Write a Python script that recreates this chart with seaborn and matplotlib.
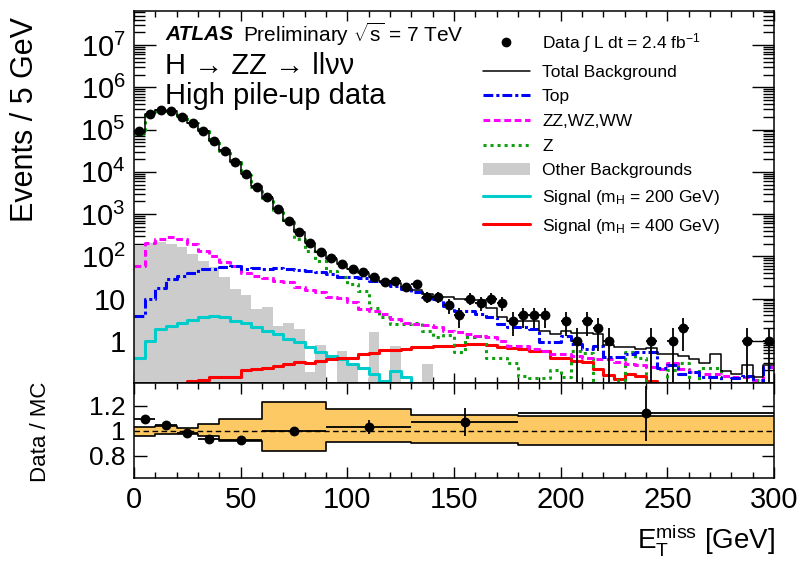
import numpy as np
import pandas as pd
import seaborn as sns
import matplotlib
matplotlib.use("Agg")
import matplotlib.pyplot as plt
from matplotlib.lines import Line2D
from matplotlib.patches import Patch
from matplotlib.ticker import FixedLocator, FixedFormatter, LogLocator, NullFormatter, MultipleLocator

sns.set_theme(style="ticks", rc={"axes.edgecolor": "black", "xtick.color": "black",
                                 "ytick.color": "black", "text.color": "black",
                                 "axes.labelcolor": "black"})
plt.rcParams["font.family"] = ["Liberation Sans", "DejaVu Sans"]
plt.rcParams["mathtext.fontset"] = "custom"
plt.rcParams["mathtext.rm"] = "Liberation Sans"
plt.rcParams["mathtext.it"] = "Liberation Sans:italic"
plt.rcParams["mathtext.bf"] = "Liberation Sans:bold"
plt.rcParams["mathtext.default"] = "regular"

# ---- E_T^miss binning (5 GeV bins, 0-300 GeV) ----
met_edges = list(range(0, 305, 5))

# ---- observed events per bin ----
data = [92000, 239000, 293000, 274000, 203000, 141000, 91000, 54800, 31800, 16800,
        8900, 4460, 2490, 1320, 698, 369, 202, 124, 89, 66,
        50, 42, 33, 25, 26, 19, 22, 11, 11, 7,
        4, 10, 8, 10, 8, 3, 4, 4, 4, 0,
        3, 1, 3, 2, 1, 0, 0, 0, 1, 0,
        1, 2, 0, 0, 0, 0, 0, 1, 0, 1]

# ---- expected backgrounds ----
total_bkg = [85000, 230000, 290000, 275000, 210000, 145000, 92000, 55000, 32000, 17000,
             8800, 4500, 2450, 1330, 700, 372, 205, 125, 86, 64,
             50, 40, 33, 26, 23, 19, 16, 13, 11, 11,
             10, 9, 9, 6, 3.7, 3, 3, 3, 1.7, 1.45,
             1.7, 1.55, 1.55, 1.45, 0.8, 0.7, 0.7, 0.65, 0.68, 0.48,
             0.48, 0.44, 0.38, 0.3, 0.49, 0.19, 0.16, 0.27, 0.14, 0.27]

top = [3.9, 9.7, 18, 29, 35, 41, 50, 50, 57, 58,
       50, 53, 50, 53, 50, 47, 46, 42, 38, 32,
       32, 30, 26, 24, 20, 17, 14, 11, 9.7, 6.8,
       5.1, 5.1, 4.3, 3.6, 2.5, 2.1, 2.1, 1.9, 0.91, 0.93,
       1.3, 0.83, 0.64, 0.76, 0.42, 0.42, 0.48, 0.53, 0.53, 0.23,
       0.27, 0.16, 0.18, 0.135, 0.135, 0.09, 0.13, 0.15, 0.08, 0.24]

diboson = [60, 205, 256, 290, 256, 195, 135, 103, 72, 60,
           41, 35, 31, 26, 24, 19, 16, 14, 10.6, 10.3,
           8.1, 5.6, 5.1, 4.3, 3.3, 2.7, 2.5, 2.3, 2.1, 1.73,
           1.57, 1.42, 1.3, 1.2, 1.0, 0.76, 0.76, 0.64, 0.58, 0.48,
           0.48, 0.44, 0.40, 0.37, 0.37, 0.31, 0.28, 0.26, 0.24, 0.22,
           0.30, 0.22, 0.18, 0.16, 0.16, 0.15, 0.135, 0.135, 0.12, 0.24]

zjets = [80000, 225000, 285000, 270000, 205000, 143000, 91000, 54000, 31500, 16800,
         8600, 4400, 2380, 1250, 640, 250, 130, 79, 45, 32,
         22, 15, 6, 3.6, 2.5, 2.5, 2.7, 1.7, 1.2, 1.4,
         0.55, 1.2, 1.3, 0.4, 0.4, 0.3, 0.15, 0.13, 0.13, 0.2,
         0.14, 0.58, 0.5, 0.1, 0.09, 0.12, 0.53, 0.4, 0.05, 0.05,
         0.2, 0.3, 0.1, 0.23, 0.23, 0.1, 0.05, 0.05, 0.12, 0.05]

other_bkg = [178, 203, 213, 195, 162, 113, 79, 55, 31.6, 16.8,
             12, 5.6, 6.2, 2.2, 2.7, 1.9, 0.18, 0.78, 0, 0.58,
             0.3, 0, 1.57, 0, 0.76, 0, 0, 0.28, 0, 0,
             0, 0, 0, 0, 0, 0, 0, 0, 0, 0,
             0, 0, 0, 0, 0, 0, 0, 0, 0, 0,
             0, 0, 0, 0, 0, 0, 0, 0, 0, 0]

# ---- Higgs signal expectations ----
signal_200 = [0.40, 1.0, 1.9, 2.27, 2.7, 3.1, 3.6, 3.9, 3.6, 3.0,
              2.7, 2.07, 1.73, 1.44, 1.1, 0.91, 0.7, 0.55, 0.44, 0.37,
              0.28, 0.23, 0.16, 0.11, 0.19, 0.135, 0, 0, 0, 0,
              0, 0, 0, 0, 0, 0, 0, 0, 0, 0,
              0, 0, 0, 0, 0, 0, 0, 0, 0, 0,
              0, 0, 0, 0, 0, 0, 0, 0, 0, 0]

signal_400 = [0, 0, 0, 0, 0, 0.11, 0.12, 0.135, 0.14, 0.14,
              0.2, 0.21, 0.23, 0.25, 0.28, 0.31, 0.3, 0.33, 0.38, 0.4,
              0.4, 0.48, 0.52, 0.62, 0.6, 0.65, 0.7, 0.72, 0.76, 0.76,
              0.8, 0.86, 0.86, 0.8, 0.72, 0.69, 0.64, 0.58, 0.56, 0.40,
              0.40, 0.34, 0.31, 0.21, 0.157, 0.123, 0.16, 0.15, 0.11, 0,
              0, 0, 0, 0, 0, 0, 0, 0, 0, 0]

# ---- Data / MC ratio in coarse bins ----
ratio_edges = [0, 10, 20, 30, 40, 60, 90, 130, 180, 300]
ratio_values = [1.092, 1.045, 0.978, 0.933, 0.927, 1.0, 1.03, 1.068, 1.14]
ratio_errors = [0.012, 0.01, 0.01, 0.012, 0.012, 0.012, 0.057, 0.11, 0.22]
band_up = [1.03, 1.04, 1.02, 1.053, 1.092, 1.226, 1.172, 1.127, 1.116]
band_down = [0.955, 0.97, 0.97, 0.954, 0.918, 0.834, 0.91, 0.90, 0.888]

# ---- axis tick labels ----
y_tick_values = [1, 10, 1e2, 1e3, 1e4, 1e5, 1e6, 1e7]
y_tick_labels = ["1", "10", "$10^{2}$", "$10^{3}$", "$10^{4}$", "$10^{5}$", "$10^{6}$", "$10^{7}$"]
ratio_tick_values = [0.8, 1.0, 1.2]
ratio_tick_labels = ["0.8", "1", "1.2"]

edges = np.asarray(met_edges, dtype=float)
hist_df = pd.DataFrame({
    "met": 0.5 * (edges[:-1] + edges[1:]),
    "data": data, "total": total_bkg, "top": top, "diboson": diboson,
    "zjets": zjets, "other": other_bkg, "sig200": signal_200, "sig400": signal_400,
})

W, H = 807, 561
fig = plt.figure(figsize=(W / 100, H / 100), dpi=100)
ax = fig.add_axes([134 / W, 1 - 383 / H, 640 / W, 372 / H])
rax = fig.add_axes([134 / W, 1 - 478 / H, 640 / W, 95 / H])

LW = 2.2
common = dict(data=hist_df, x="met", bins=list(met_edges), element="step", ax=ax)

# other backgrounds as filled grey histogram
sns.histplot(weights="other", fill=True, color="#cccccc", alpha=1.0, linewidth=0, **common)

sns.histplot(weights="sig200", fill=False, color="#00cccc", lw=LW, **common)
sns.histplot(weights="sig400", fill=False, color="#ff0000", lw=LW, **common)
sns.histplot(weights="zjets", fill=False, color="#11a011", lw=LW, ls=(0, (1.0, 1.3)), **common)
sns.histplot(weights="diboson", fill=False, color="#ff00ff", lw=LW, ls=(0, (2.2, 1.2)), **common)
sns.histplot(weights="top", fill=False, color="#0000ff", lw=LW, ls=(0, (3.2, 1.0, 1.0, 1.0)), **common)
sns.histplot(weights="total", fill=False, color="black", lw=1.1, **common)

# observed data with Poisson errors
obs = hist_df[hist_df["data"] > 0]
ax.errorbar(obs["met"], obs["data"], yerr=np.sqrt(obs["data"]), xerr=2.5, fmt="none",
            ecolor="black", elinewidth=1.3, zorder=5)
sns.scatterplot(data=obs, x="met", y="data", color="black", s=50, linewidth=0, ax=ax, zorder=6)

ax.set_yscale("log")
ax.set_xlim(0, 300)
ax.set_ylim(0.1, 6.4e7)
ax.yaxis.set_major_locator(FixedLocator(y_tick_values))
ax.yaxis.set_major_formatter(FixedFormatter(y_tick_labels))
ax.yaxis.set_minor_locator(LogLocator(base=10, subs=np.arange(2, 10), numticks=20))
ax.yaxis.set_minor_formatter(NullFormatter())
ax.xaxis.set_major_locator(MultipleLocator(50))
ax.xaxis.set_minor_locator(MultipleLocator(10))
ax.tick_params(axis="x", which="both", labelbottom=False)
ax.tick_params(which="both", direction="in", top=True, right=True, bottom=True, left=True, width=1.0)
ax.tick_params(axis="y", which="major", length=16, labelsize=21, pad=6)
ax.tick_params(axis="y", which="minor", length=8)
ax.tick_params(axis="x", which="major", length=7)
ax.tick_params(axis="x", which="minor", length=4)
ax.set_xlabel("")
ax.set_ylabel("")
for s in ax.spines.values():
    s.set_linewidth(1.1)

# ---- ratio panel ----
redges = np.asarray(ratio_edges, dtype=float)
ratio_df = pd.DataFrame({
    "met": 0.5 * (redges[:-1] + redges[1:]),
    "half": 0.5 * np.diff(redges),
    "ratio": ratio_values, "err": ratio_errors,
    "up": band_up, "down": band_down,
})
up_ext = np.append(band_up, band_up[-1])
dn_ext = np.append(band_down, band_down[-1])
rax.fill_between(redges, dn_ext, up_ext, step="post", color="#fdc964", linewidth=0, zorder=1)
rcommon = dict(data=ratio_df, x="met", bins=list(ratio_edges), element="step", fill=False,
               color="black", lw=1.2, ax=rax, zorder=2)
sns.histplot(weights="up", **rcommon)
sns.histplot(weights="down", **rcommon)
rax.axhline(1.0, color="black", ls=(0, (4, 2.5)), lw=1.0, zorder=3)
rax.errorbar(ratio_df["met"], ratio_df["ratio"], yerr=ratio_df["err"], xerr=ratio_df["half"],
             fmt="none", ecolor="black", elinewidth=1.3, zorder=4)
sns.scatterplot(data=ratio_df, x="met", y="ratio", color="black", s=50, linewidth=0, ax=rax, zorder=5)

rax.set_xlim(0, 300)
rax.set_ylim(0.62, 1.38)
rax.yaxis.set_major_locator(FixedLocator(ratio_tick_values))
rax.yaxis.set_major_formatter(FixedFormatter(ratio_tick_labels))
rax.xaxis.set_major_locator(MultipleLocator(50))
rax.xaxis.set_minor_locator(MultipleLocator(10))
rax.tick_params(which="both", direction="in", top=True, right=True, bottom=True, left=True, width=1.0)
rax.tick_params(axis="y", which="major", length=9, labelsize=19, pad=6)
rax.tick_params(axis="x", which="major", length=8, labelsize=21, pad=6)
rax.tick_params(axis="x", which="minor", length=4)
rax.set_xlabel("")
rax.set_ylabel("")
for s in rax.spines.values():
    s.set_linewidth(1.1)

# ---- axis titles ----
fig.text(25 / W, 1 - 119 / H, "Events / 5 GeV", rotation=90, ha="center", va="center", fontsize=22)
fig.text(40 / W, 1 - 432 / H, "Data / MC", rotation=90, ha="center", va="center", fontsize=16)
fig.text(775 / W, 1 - 540 / H, r"$\mathregular{E_{T}^{miss}}$ [GeV]", ha="right", va="center", fontsize=20)

# ---- labels ----
fig.text(165 / W, 1 - 34 / H, "ATLAS", ha="left", va="center", fontsize=15,
         fontweight="bold", fontstyle="italic")
fig.text(243 / W, 1 - 34 / H, r"Preliminary $\sqrt{s}$ = 7 TeV", ha="left", va="center", fontsize=15)
fig.text(165 / W, 1 - 66 / H, "H → ZZ → llνν", ha="left", va="center", fontsize=21)
fig.text(165 / W, 1 - 96 / H, "High pile-up data", ha="left", va="center", fontsize=21)

# ---- legend ----
handles = [
    Line2D([], [], color="black", marker="o", ls="none", ms=6),
    Line2D([], [], color="black", lw=1.1),
    Line2D([], [], color="#0000ff", lw=LW, ls=(0, (3.2, 1.0, 1.0, 1.0))),
    Line2D([], [], color="#ff00ff", lw=LW, ls=(0, (2.2, 1.2))),
    Line2D([], [], color="#11a011", lw=LW, ls=(0, (1.0, 1.3))),
    Patch(facecolor="#cccccc", edgecolor="none"),
    Line2D([], [], color="#00cccc", lw=LW),
    Line2D([], [], color="#ff0000", lw=LW),
]
labels = [
    r"Data $\int$ L dt = 2.4 fb$^{-1}$",
    "Total Background",
    "Top",
    "ZZ,WZ,WW",
    "Z",
    "Other Backgrounds",
    r"Signal (m$_{H}$ = 200 GeV)",
    r"Signal (m$_{H}$ = 400 GeV)",
]
fig.legend(handles, labels, loc="upper left", bbox_to_anchor=(483 / W, 1 - 31 / H),
           frameon=False, fontsize=12.5, handlelength=2.7, handletextpad=0.7,
           labelspacing=0.55, borderpad=0, borderaxespad=0)

fig.savefig("out.png", dpi=100)
